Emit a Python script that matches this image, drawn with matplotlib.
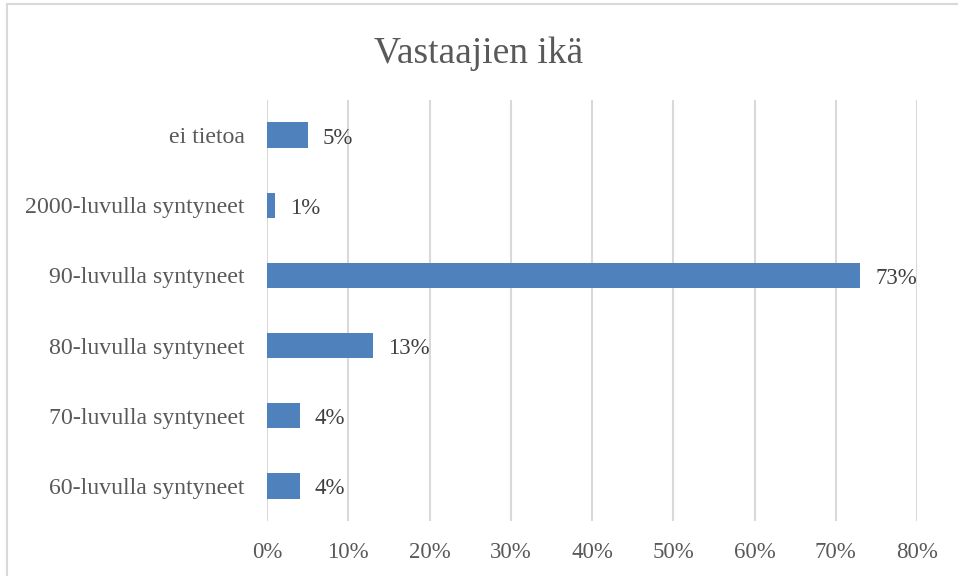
import matplotlib.pyplot as plt
from matplotlib.lines import Line2D

plt.rcParams['font.family'] = ['Liberation Serif', 'DejaVu Serif']

# Data (bottom to top)
categories = ['60-luvulla syntyneet', '70-luvulla syntyneet', '80-luvulla syntyneet',
              '90-luvulla syntyneet', '2000-luvulla syntyneet', 'ei tietoa']
values = [4, 4, 13, 73, 1, 5]
x_ticks = [0, 10, 20, 30, 40, 50, 60, 70, 80]

text_color = '#595959'
bar_color = '#4F81BD'
grid_color = '#D9D9D9'

fig = plt.figure(figsize=(9.58, 5.76), dpi=100)
ax = fig.add_axes([267 / 958, 55 / 576, 650 / 958, 421 / 576])

y = range(len(categories))
ax.barh(y, values, height=0.36, color=bar_color, zorder=3)

for yi, v in zip(y, values):
    ax.annotate(f'{v}%', (v, yi), xytext=(15, -3), textcoords='offset pixels',
                va='center', ha='left', fontsize=16.5, color='#404040', zorder=4)

ax.set_xlim(0, 80)
ax.set_ylim(-0.5, len(categories) - 0.5)
ax.set_xticks(x_ticks)
ax.set_xticklabels([f'{t}%' for t in x_ticks])
ax.set_yticks(list(y))
ax.set_yticklabels(categories)

ax.grid(axis='x', color=grid_color, linewidth=1.5, zorder=0)
for s in ax.spines.values():
    s.set_visible(False)
ax.tick_params(axis='both', length=0, labelcolor=text_color)
ax.tick_params(axis='x', pad=15, labelsize=16.5)
ax.tick_params(axis='y', pad=16, labelsize=17.2)

fig.text(0.5, 1 - 54 / 576, 'Vastaajien ikä', ha='center', va='center',
         fontsize=27, color=text_color)

# chart border (only left and top edges are visible)
fig.add_artist(Line2D([7 / 958, 7 / 958], [0, 1 - 4 / 576], transform=fig.transFigure,
                      color=grid_color, linewidth=1.5))
fig.add_artist(Line2D([7 / 958, 1], [1 - 4 / 576, 1 - 4 / 576], transform=fig.transFigure,
                      color=grid_color, linewidth=1.5))

fig.savefig('out.png', dpi=100)
